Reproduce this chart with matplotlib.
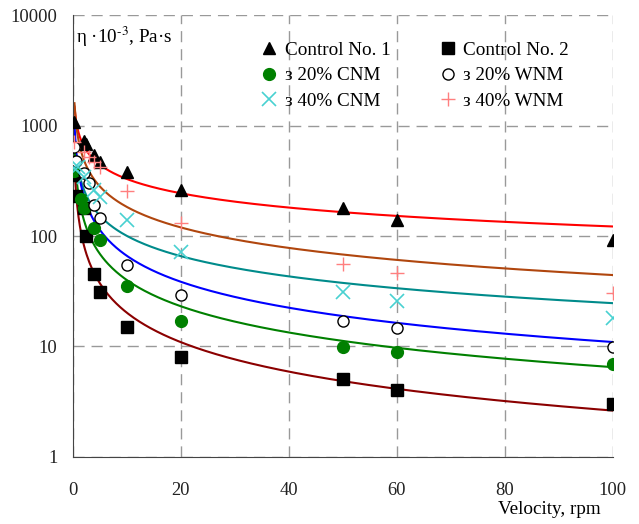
import numpy as np
import matplotlib
matplotlib.use("Agg")
import matplotlib.pyplot as plt

plt.rcParams['font.family'] = ['Liberation Serif', 'DejaVu Serif']
plt.rcParams['mathtext.fontset'] = 'stix'

# data (velocity, rpm ; viscosity eta*10^-3, Pa*s)
x_c1 = [0.3, 2, 2.5, 4, 5, 10, 20, 50, 60, 100]
y_c1 = [1080, 730, 680, 540, 470, 380, 260, 178, 140, 92]

x_c2 = [0.3, 0.5, 2, 2.5, 4, 5, 10, 20, 50, 60, 100]
y_c2 = [360, 230, 178, 100, 45, 31, 15, 8, 5.1, 4, 3]

x_cnm20 = [0.3, 1.5, 2, 4, 5, 10, 20, 50, 60, 100]
y_cnm20 = [390, 215, 180, 118, 93, 35, 17, 9.8, 9.0, 6.9]

x_wnm20 = [0.3, 0.5, 2, 3, 4, 5, 10, 20, 50, 60, 100]
y_wnm20 = [640, 480, 370, 300, 190, 145, 55, 29, 17, 14.8, 9.8]

x_cnm40 = [0.3, 1, 2, 4, 5, 10, 20, 50, 60, 100]
y_cnm40 = [410, 420, 345, 260, 228, 140, 72, 31, 26, 18]

x_wnm40 = [0.3, 2, 3, 4, 5, 10, 20, 50, 60, 100]
y_wnm40 = [710, 580, 520, 470, 420, 256, 132, 55.5, 46, 30.7]

labels = ['Control No. 1', 'Control No. 2', 'з 20% CNM',
          'з 20% WNM', 'з 40% CNM', 'з 40% WNM']

fig = plt.figure(figsize=(6.39, 5.24), dpi=100)
ax = fig.add_axes([0.114, 0.128, 0.845, 0.843])


def trend(x, y, color):
    # power trendline fitted to the points (log-log least squares)
    b, lna = np.polyfit(np.log(x), np.log(y), 1)
    xs = np.linspace(min(x), max(x), 400)
    ax.plot(xs, np.exp(lna) * xs ** b, color=color, lw=1.5, zorder=2)


trend(x_c1, y_c1, '#ff0000')
trend(x_wnm40, y_wnm40, '#b0460e')
trend(x_cnm40, y_cnm40, '#008b8b')
trend(x_wnm20, y_wnm20, '#0000ff')
trend(x_cnm20, y_cnm20, '#008000')
trend(x_c2, y_c2, '#8b0000')

h1, = ax.plot(x_c1, y_c1, '^', color='black', ms=9, ls='none', zorder=3)
h2, = ax.plot(x_c2, y_c2, 's', color='black', ms=9, ls='none', zorder=3)
h3, = ax.plot(x_cnm20, y_cnm20, 'o', color='#008000', ms=8.5, ls='none', zorder=3)
h4, = ax.plot(x_wnm20, y_wnm20, 'o', mfc='white', mec='black', mew=1, ms=8,
              ls='none', zorder=3)
h5, = ax.plot(x_cnm40, y_cnm40, 'x', color='#48d1d1', ms=10, mew=1.2,
              ls='none', zorder=3)
h6, = ax.plot(x_wnm40, y_wnm40, '+', color='#ff7f7f', ms=10, mew=1,
              ls='none', zorder=3)

ax.set_yscale('log')
ax.set_xlim(0, 100)
ax.set_ylim(1, 10000)
ax.set_xticks([0, 20, 40, 60, 80, 100])
ax.set_yticks([1, 10, 100, 1000, 10000])
ax.set_yticklabels(['1', '10', '100', '1000', '10000'])
ax.minorticks_off()
ax.tick_params(labelsize=13.3, length=0, colors='#222222')
ax.tick_params(axis='y', pad=11)
ax.tick_params(axis='x', pad=18)

ax.grid(True, color='#999999', ls=(0, (8, 5)), lw=1)
ax.spines['top'].set_visible(False)
ax.spines['right'].set_visible(False)
ax.spines['left'].set_color('#444444')
ax.spines['bottom'].set_color('#444444')

ax.text(0.006, 0.95, 'η ·10$^{\u20103}$, Pa·s', transform=ax.transAxes,
        fontsize=13.8, va='center', ha='left')
fig.text(0.94, 0.027, 'Velocity, rpm', fontsize=13.8, ha='right', va='center')

ax.legend([h1, h3, h5, h2, h4, h6],
          [labels[0], labels[2], labels[4], labels[1], labels[3], labels[5]],
          ncol=2, loc='upper left', bbox_to_anchor=(0.332, 0.958), frameon=False,
          fontsize=13.8, handlelength=1.0, handletextpad=0.3, columnspacing=2.5,
          labelspacing=0.42, borderaxespad=0)

fig.savefig('out.png', dpi=100)
